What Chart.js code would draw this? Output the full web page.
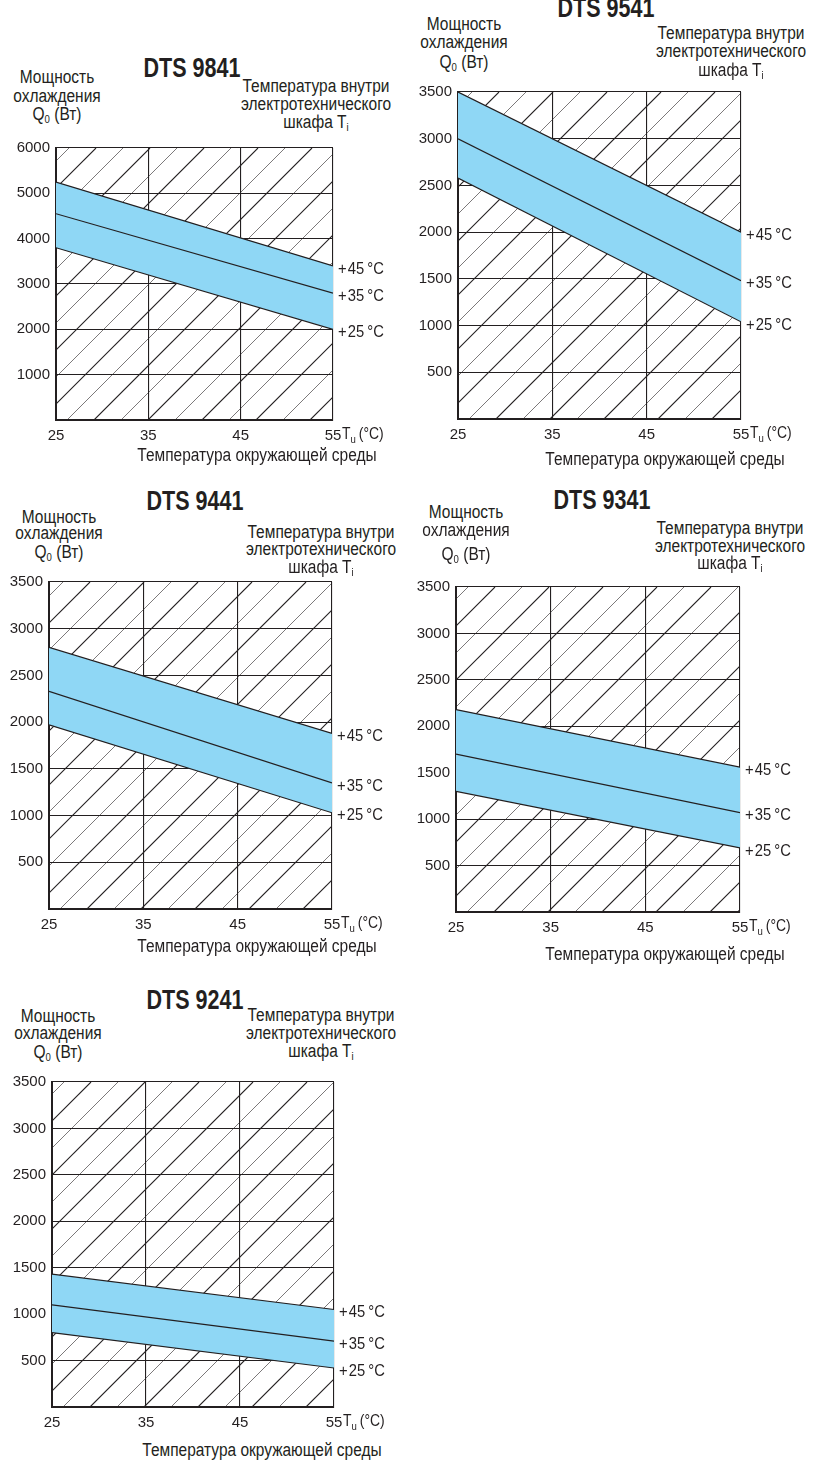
<!DOCTYPE html>
<html lang="ru">
<head>
<meta charset="utf-8">
<script src="https://cdn.jsdelivr.net/npm/chart.js@4.4.1/dist/chart.umd.min.js"></script>
<style>
  html, body { margin: 0; padding: 0; background: #fff; }
  body { width: 821px; height: 1464px; position: relative; overflow: hidden; color: #231f20;
         font-family: "Liberation Sans", Arial, sans-serif; }
  .t { position: absolute; white-space: nowrap; line-height: 1; transform: translateX(-50%) scaleX(0.86); }
  .t.b { font-weight: bold; transform: translateX(-50%) scaleX(0.77); }
  .t sub { font-size: 0.62em; vertical-align: baseline; position: relative; top: 0.32em; }
  canvas { position: absolute; }
</style>
</head>
<body>
<script>
// --- data ---
const MODELS = ['DTS 9841', 'DTS 9541', 'DTS 9441', 'DTS 9341', 'DTS 9241'];
const AMBIENT = [25, 55];                       // T_u (°C), line end points
const X_TICKS = [25, 35, 45, 55];
const INNER_TEMPS = ['+\u200a45\u2009°C', '+\u200a35\u2009°C', '+\u200a25\u2009°C'];
const Y_MAX = [6000, 3500, 3500, 3500, 3500];
const Y_STEP = [1000, 500, 500, 500, 500];

// Q0 (Вт) at 25 °C and 55 °C ambient, rows: +45, +35, +25 °C inside
const Q_DTS9841 = [[5250, 3400], [4550, 2800], [3800, 2000]];
const Q_DTS9541 = [[3500, 2000], [3000, 1480], [2580, 1040]];
const Q_DTS9441 = [[2800, 1880], [2330, 1350], [1970, 1030]];
const Q_DTS9341 = [[2180, 1560], [1700, 1070], [1300, 690]];
const Q_DTS9241 = [[1430, 1050], [1100, 710], [800, 420]];
const SERIES = [Q_DTS9841, Q_DTS9541, Q_DTS9441, Q_DTS9341, Q_DTS9241];

// --- layout (page pixels) ---
const LAYOUT = [
  { l: 56,  t: 143,  r: 333, b: 420,  title: [192, 78],   ytl: [57, [83, 102, 120]],     rtl: [316, [92, 110, 128]],     xtl: [257, 461] },
  { l: 458, t: 87,   r: 741, b: 419,  title: [606, 18],   ytl: [464, [30, 48, 68]],      rtl: [731, [39, 57, 76]],       xtl: [665, 465] },
  { l: 49,  t: 577,  r: 332, b: 909,  title: [195, 511],  ytl: [59, [523, 539, 558]],    rtl: [321, [538, 555, 573]],    xtl: [257, 952] },
  { l: 456, t: 582,  r: 740, b: 912,  title: [602, 510],  ytl: [466, [518, 536, 560]],   rtl: [730, [534, 552, 569]],    xtl: [665, 960] },
  { l: 52,  t: 1077, r: 334, b: 1407, title: [195, 1010], ytl: [58, [1022, 1039, 1058]], rtl: [321, [1021, 1039, 1057]], xtl: [262, 1456] }
];

const FF = '"Liberation Sans", Arial, sans-serif';
const INK = '#231f20';
const BAND = '#8fd7f5';
const Y_W = 50, X_H = 30, PAD_T = 10, PAD_R = 62;
const TICK_PX = 15, LBL_PX = 17, AX_PX = 18, TITLE_PX = 28;
const SQUEEZE = 0.87;
const HATCH_GAP = 27, HATCH_PHASE = 11;

function addText(html, cx, base, size, bold) {
  const d = document.createElement('div');
  d.className = 't' + (bold ? ' b' : '');
  d.style.fontSize = size + 'px';
  d.style.left = cx + 'px';
  d.style.top = (base - 0.85 * size) + 'px';
  d.innerHTML = html;
  document.body.appendChild(d);
}

// condensed canvas text, left aligned at x
function squeezedText(ctx, s, x, y) {
  ctx.save();
  ctx.translate(x, y);
  ctx.scale(SQUEEZE, 1);
  ctx.fillText(s, 0, 0);
  const w = ctx.measureText(s).width * SQUEEZE;
  ctx.restore();
  return w;
}

const hatchPlugin = {
  id: 'hatch',
  beforeDraw(chart) {
    const { ctx, chartArea: a } = chart;
    const h = a.bottom - a.top;
    ctx.save();
    ctx.beginPath();
    ctx.rect(a.left, a.top, a.right - a.left, h);
    ctx.clip();
    ctx.strokeStyle = INK;
    let n = 0;
    for (let x0 = a.left + HATCH_PHASE - Math.ceil(h / HATCH_GAP) * HATCH_GAP; x0 < a.right; x0 += HATCH_GAP, n++) {
      ctx.lineWidth = n % 2 ? 0.6 : 1.1;
      ctx.beginPath();
      ctx.moveTo(x0, a.bottom);
      ctx.lineTo(x0 + h, a.top);
      ctx.stroke();
    }
    ctx.restore();
  }
};

const labelPlugin = {
  id: 'endLabels',
  afterDraw(chart) {
    const { ctx, chartArea: a, scales } = chart;
    ctx.save();
    ctx.fillStyle = INK;
    ctx.textBaseline = 'middle';
    ctx.textAlign = 'left';
    ctx.font = LBL_PX + 'px ' + FF;
    chart.data.datasets.forEach((ds, k) => {
      const pts = chart.getDatasetMeta(k).data;
      squeezedText(ctx, ds.label, a.right + 5, pts[pts.length - 1].y + 3);
    });
    // T_u (°C) after the last x tick
    const x0 = scales.x.getPixelForValue(X_TICKS[X_TICKS.length - 1]) + 9;
    const y0 = a.bottom + 15;
    ctx.font = '16px ' + FF;
    let x = x0 + squeezedText(ctx, 'T', x0, y0);
    ctx.font = '11px ' + FF;
    x += squeezedText(ctx, 'u', x, y0 + 5) + 3;
    ctx.font = '16px ' + FF;
    squeezedText(ctx, '(°C)', x, y0);
    ctx.restore();
  }
};

MODELS.forEach((name, i) => {
  const L = LAYOUT[i];
  const W = Y_W + (L.r - L.l) + PAD_R;
  const H = PAD_T + (L.b - L.t) + X_H;
  const cv = document.createElement('canvas');
  cv.width = W; cv.height = H;
  cv.style.left = (L.l - Y_W) + 'px';
  cv.style.top = (L.t - PAD_T) + 'px';
  cv.style.width = W + 'px';
  cv.style.height = H + 'px';
  document.body.appendChild(cv);

  addText(name, L.title[0], L.title[1], TITLE_PX, true);
  ['Мощность', 'охлаждения', 'Q<sub>0</sub> (Вт)'].forEach((s, k) => addText(s, L.ytl[0], L.ytl[1][k], AX_PX));
  ['Температура внутри', 'электротехнического', 'шкафа T<sub>i</sub>'].forEach((s, k) => addText(s, L.rtl[0], L.rtl[1][k], AX_PX));
  addText('Температура окружающей среды', L.xtl[0], L.xtl[1], AX_PX);

  const font = { family: FF, size: TICK_PX };
  new Chart(cv, {
    type: 'line',
    data: {
      datasets: SERIES[i].map((vals, k) => ({
        label: INNER_TEMPS[k],
        data: AMBIENT.map((x, j) => ({ x, y: vals[j] })),
        borderColor: INK,
        borderWidth: 1.2,
        pointRadius: 0,
        tension: 0,
        fill: k === 0 ? 2 : false,
        backgroundColor: BAND
      }))
    },
    options: {
      responsive: false,
      animation: false,
      layout: { padding: { top: PAD_T, right: PAD_R, left: 0, bottom: 0 } },
      plugins: {
        legend: { display: false },
        tooltip: { enabled: false },
        filler: { drawTime: 'beforeDatasetsDraw' }
      },
      scales: {
        x: {
          type: 'linear', min: 25, max: 55, z: 1,
          afterBuildTicks: s => { s.ticks = X_TICKS.map(v => ({ value: v })); },
          afterFit: s => { s.height = X_H; },
          grid: { color: INK, lineWidth: 1.1, drawTicks: false },
          border: { color: INK, width: 2 },
          ticks: { font, color: INK, padding: 7, maxRotation: 0, autoSkip: false, callback: v => String(v) }
        },
        y: {
          min: 0, max: Y_MAX[i], z: 1,
          afterFit: s => { s.width = Y_W; },
          grid: { color: INK, lineWidth: 1.1, drawTicks: false },
          border: { color: INK, width: 2 },
          ticks: { font, color: INK, padding: 6, stepSize: Y_STEP[i], callback: v => v === 0 ? '' : String(v) }
        }
      }
    },
    plugins: [hatchPlugin, labelPlugin]
  });
});
</script>
</body>
</html>
